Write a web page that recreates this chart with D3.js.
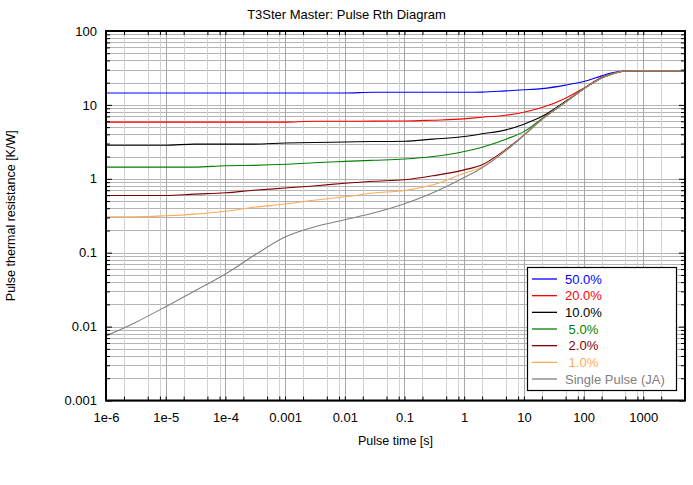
<!DOCTYPE html>
<html><head><meta charset="utf-8">
<script src="https://cdn.jsdelivr.net/npm/d3@7"></script>
<style>body{margin:0;background:#fff}text{font-family:Arial,"Liberation Sans",sans-serif}</style>
</head><body><svg id="c" width="693" height="485"></svg>
<script>
// Pulse time [s]
const times = [1e-6, 3e-6, 1e-5, 3e-5, 1e-4, 3e-4, 1e-3, 3e-3, 1e-2, 3e-2, 0.1, 0.3, 1, 2, 5, 10, 20, 50, 100, 200, 300, 500, 1000, 5000];
// Pulse thermal resistance [K/W] for each duty cycle
const d50 = [14.5, 14.5, 14.5, 14.5, 14.5, 14.5, 14.5, 14.5, 14.5, 14.8, 14.8, 14.8, 14.8, 14.9, 15.5, 16.0, 16.6, 18.5, 20.7, 24.7, 27.3, 28.8, 29.0, 29.0];
const d20 = [5.85, 5.85, 5.85, 5.85, 5.85, 5.85, 5.85, 6.0, 6.0, 6.03, 6.05, 6.21, 6.47, 6.82, 7.26, 7.96, 9.2, 12.3, 16.8, 23.4, 26.4, 28.8, 29.0, 29.0];
const d10 = [2.85, 2.85, 2.85, 2.95, 2.95, 2.95, 3.05, 3.1, 3.15, 3.19, 3.22, 3.44, 3.73, 4.06, 4.59, 5.48, 6.95, 11.2, 16.5, 23.3, 26.3, 28.8, 29.0, 29.0];
const d5 = [1.44, 1.44, 1.44, 1.44, 1.50, 1.52, 1.57, 1.65, 1.72, 1.78, 1.85, 2.0, 2.34, 2.68, 3.44, 4.35, 6.5, 10.95, 16.4, 23.2, 26.2, 28.8, 29.0, 29.0];
const d2 = [0.594, 0.594, 0.594, 0.621, 0.647, 0.70, 0.75, 0.80, 0.87, 0.925, 0.97, 1.10, 1.32, 1.55, 2.5, 3.9, 6.4, 10.9, 16.4, 23.2, 26.2, 28.8, 29.0, 29.0];
const d1 = [0.306, 0.306, 0.316, 0.333, 0.364, 0.412, 0.455, 0.512, 0.571, 0.641, 0.695, 0.83, 1.19, 1.45, 2.42, 3.87, 6.35, 10.9, 16.4, 23.2, 26.2, 28.8, 29.0, 29.0];
const single = [0.00747, 0.0112, 0.0186, 0.0301, 0.0515, 0.0914, 0.163, 0.221, 0.279, 0.344, 0.459, 0.648, 1.04, 1.41, 2.41, 3.87, 6.32, 10.9, 16.4, 23.2, 26.2, 28.8, 29.0, 29.0];

const seriesNames = ["50.0%", "20.0%", "10.0%", " 5.0%", " 2.0%", " 1.0%", "Single Pulse (JA)"];
const seriesValues = [d50, d20, d10, d5, d2, d1, single];
const seriesColors = ["#0000ff", "#ff0000", "#000000", "#008000", "#800000", "#ffaa55", "#808080"];

const xTickValues = [1e-6, 1e-5, 1e-4, 1e-3, 1e-2, 0.1, 1, 10, 100, 1000];
const xTickLabels = ["1e-6", "1e-5", "1e-4", "0.001", "0.01", "0.1", "1", "10", "100", "1000"];
const yTickValues = [0.001, 0.01, 0.1, 1, 10, 100];
const yTickLabels = ["0.001", "0.01", "0.1", "1", "10", "100"];

const L = 106, R = 685, T = 31, B = 400.5;
const svg = d3.select("#c");
const x = d3.scaleLog().domain([1e-6, 5000]).range([L, R]);
const y = d3.scaleLog().domain([0.001, 100]).range([B, T]);

// grid values
const xMinor = [], xMajor = [];
for (let e = -6; e <= 3; e++) {
  xMajor.push(Math.pow(10, e));
  [2, 5, 8].forEach(k => { const v = k * Math.pow(10, e); if (v < 5000) xMinor.push(v); });
}
const yMinor = [], yMajor = [];
for (let e = -3; e <= 1; e++) {
  [2,3,4,5,6,7,8,9].forEach(k => yMinor.push(k * Math.pow(10, e)));
}
yTickValues.forEach(v => yMajor.push(v));

const g = svg.append("g");
g.selectAll(".hg").data(yMinor.concat(yMajor)).enter().append("line")
  .attr("x1", L).attr("x2", R).attr("y1", d => Math.round(y(d)) + 0.5).attr("y2", d => Math.round(y(d)) + 0.5)
  .attr("stroke", "#b4b4b4").attr("stroke-width", 1);
g.selectAll(".vg").data(xMinor).enter().append("line")
  .attr("y1", T).attr("y2", B).attr("x1", d => Math.round(x(d)) + 0.5).attr("x2", d => Math.round(x(d)) + 0.5)
  .attr("stroke", "#d2d2d2").attr("stroke-width", 1);
g.selectAll(".vG").data(xMajor).enter().append("line")
  .attr("y1", T).attr("y2", B).attr("x1", d => Math.round(x(d)) + 0.5).attr("x2", d => Math.round(x(d)) + 0.5)
  .attr("stroke", "#a8a8a8").attr("stroke-width", 1);

// curves
svg.append("clipPath").attr("id", "clip").append("rect").attr("x", L).attr("y", T).attr("width", R - L).attr("height", B - T);
const line = d3.line().x(d => x(d[0])).y(d => y(d[1])).curve(d3.curveMonotoneX);
const cg = svg.append("g").attr("clip-path", "url(#clip)");
seriesValues.forEach((vals, i) => {
  cg.append("path").datum(times.map((t, j) => [t, vals[j]]))
    .attr("d", line).attr("fill", "none").attr("stroke", seriesColors[i]).attr("stroke-width", 1.1);
});

// inward tick marks
function ticks(axisFn, scale, vals, size, transform) {
  const a = svg.append("g").attr("transform", transform)
    .call(axisFn(scale).tickValues(vals).tickSizeInner(size).tickSizeOuter(0).tickFormat(""));
  a.select(".domain").remove();
  a.selectAll("line").attr("stroke", "#000");
}
ticks(d3.axisBottom, x, xMinor.concat(xMajor), -4, `translate(0,${B})`);
ticks(d3.axisTop, x, xMinor.concat(xMajor), -4, `translate(0,${T})`);
ticks(d3.axisLeft, y, yMinor, -4, `translate(${L},0)`);
ticks(d3.axisLeft, y, yMajor, -6, `translate(${L},0)`);
ticks(d3.axisRight, y, yMinor, -4, `translate(${R},0)`);
ticks(d3.axisRight, y, yMajor, -6, `translate(${R},0)`);

// frame
svg.append("rect").attr("x", L).attr("y", T).attr("width", R - L).attr("height", B - T)
  .attr("fill", "none").attr("stroke", "#000").attr("stroke-width", 2);

// tick labels
const xa = svg.append("g").attr("transform", `translate(0,${B})`)
  .call(d3.axisBottom(x).tickValues(xTickValues).tickSize(0).tickPadding(12).tickFormat((d, i) => xTickLabels[i]));
xa.select(".domain").remove();
xa.selectAll("text").attr("font-size", 13).attr("fill", "#000").style("font-family", "Arial, 'Liberation Sans', sans-serif");
const ya = svg.append("g").attr("transform", `translate(${L},0)`)
  .call(d3.axisLeft(y).tickValues(yTickValues).tickSize(0).tickPadding(9).tickFormat((d, i) => yTickLabels[i]));
ya.select(".domain").remove();
ya.selectAll("text").attr("font-size", 13).attr("fill", "#000").style("font-family", "Arial, 'Liberation Sans', sans-serif");

// titles
svg.append("text").attr("x", 346.5).attr("y", 18.5).attr("text-anchor", "middle").attr("font-size", 13)
  .text("T3Ster Master: Pulse Rth Diagram");
svg.append("text").attr("x", (L + R) / 2).attr("y", 444.5).attr("text-anchor", "middle").attr("font-size", 12.5)
  .text("Pulse time [s]");
svg.append("text").attr("transform", `translate(14.5,${(T + B) / 2}) rotate(-90)`).attr("text-anchor", "middle").attr("font-size", 12.5)
  .text("Pulse thermal resistance [K/W]");

// legend
const lg = svg.append("g");
lg.append("rect").attr("x", 527.5).attr("y", 267.5).attr("width", 149).attr("height", 123)
  .attr("fill", "#fff").attr("stroke", "#000").attr("stroke-width", 1.2);
seriesNames.forEach((n, i) => {
  const cy = 279 + i * 16.67;
  lg.append("line").attr("x1", 532).attr("x2", 557).attr("y1", cy).attr("y2", cy)
    .attr("stroke", seriesColors[i]).attr("stroke-width", 1.3);
  lg.append("text").attr("x", 565).attr("y", cy + 4.7).attr("font-size", 13).attr("fill", seriesColors[i])
    .style("white-space", "pre").text(n);
});
</script></body></html>
